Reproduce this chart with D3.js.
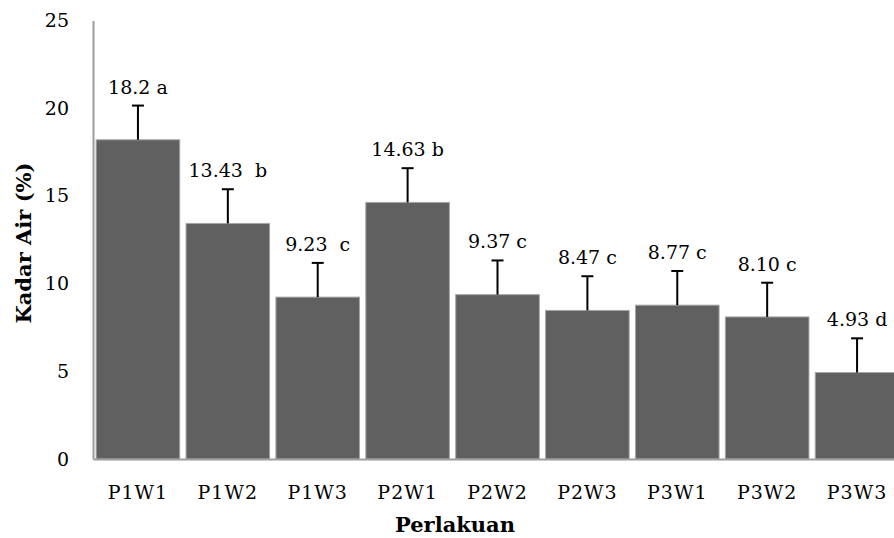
<!DOCTYPE html>
<html>
<head>
<meta charset="utf-8">
<script src="https://cdn.jsdelivr.net/npm/d3@7"></script>
<style>
	body { margin: 0; background: #fff; }
	text { font-family: "DejaVu Serif", serif; fill: #000; }
</style>
</head>
<body>
<svg id="chart" width="894" height="538"></svg>
<script>
// data
let categories = ["P1W1","P1W2","P1W3","P2W1","P2W2","P2W3","P3W1","P3W2","P3W3"];
let values = [18.2, 13.43, 9.23, 14.63, 9.37, 8.47, 8.77, 8.10, 4.93];
let errors = [1.95, 1.95, 1.95, 1.95, 1.95, 1.95, 1.95, 1.95, 1.95];
let labels = ["18.2 a", "13.43  b", "9.23  c", "14.63 b", "9.37 c", "8.47 c", "8.77 c", "8.10 c", "4.93 d"];
let yTicks = [0, 5, 10, 15, 20, 25];

let svg = d3.select("#chart");

let x = d3.scaleBand().domain(categories).range([93, 902]).paddingInner(0.07).paddingOuter(0.035);
let y = d3.scaleLinear().domain([0, 25]).range([459, 20.5]);

let data = categories.map(function (c, i) {
	return { cat: c, value: values[i], err: errors[i], label: labels[i] };
});

// bars
svg.selectAll(".bar")
	.data(data)
	.enter()
	.append("rect")
	.attr("class", "bar")
	.attr("x", function (d) { return x(d.cat); })
	.attr("width", x.bandwidth())
	.attr("y", function (d) { return y(d.value); })
	.attr("height", function (d) { return y(0) - y(d.value); })
	.attr("fill", "#606060")
	.attr("stroke", "#a6a6a6")
	.attr("stroke-width", 1);

// error bars (upper only)
let eb = svg.selectAll(".err")
	.data(data)
	.enter()
	.append("g")
	.attr("class", "err")
	.attr("stroke", "#000")
	.attr("stroke-width", 2);

eb.append("line")
	.attr("x1", function (d) { return x(d.cat) + x.bandwidth() / 2; })
	.attr("x2", function (d) { return x(d.cat) + x.bandwidth() / 2; })
	.attr("y1", function (d) { return y(d.value); })
	.attr("y2", function (d) { return y(d.value + d.err); });

eb.append("line")
	.attr("x1", function (d) { return x(d.cat) + x.bandwidth() / 2 - 6; })
	.attr("x2", function (d) { return x(d.cat) + x.bandwidth() / 2 + 6; })
	.attr("y1", function (d) { return y(d.value + d.err); })
	.attr("y2", function (d) { return y(d.value + d.err); });

// value labels
svg.selectAll(".bar_label")
	.data(data)
	.enter()
	.append("text")
	.attr("class", "bar_label")
	.attr("text-anchor", "middle")
	.attr("x", function (d) { return x(d.cat) + x.bandwidth() / 2; })
	.attr("y", function (d) { return y(d.value + d.err) - 12; })
	.style("font-size", "19px")
	.style("white-space", "pre")
	.text(function (d) { return d.label; });

// axes
let yAxis = svg.append("g")
	.attr("transform", "translate(93,0)")
	.call(d3.axisLeft(y).tickValues(yTicks).tickSize(0).tickPadding(24));
yAxis.select(".domain").attr("stroke", "#9e9e9e").attr("stroke-width", 2);
yAxis.selectAll("text").style("font-size", "19px").attr("font-family", null);

let xAxis = svg.append("g")
	.attr("transform", "translate(0,459)")
	.call(d3.axisBottom(x).tickSize(0).tickPadding(27));
xAxis.select(".domain").attr("stroke", "#9e9e9e").attr("stroke-width", 2);
xAxis.selectAll("text").style("font-size", "19px").style("letter-spacing", "1px").attr("font-family", null);

// axis titles
svg.append("text")
	.attr("transform", "translate(31,243) rotate(-90)")
	.attr("text-anchor", "middle")
	.style("font-size", "21px")
	.style("font-weight", "bold")
	.text("Kadar Air (%)");

svg.append("text")
	.attr("x", 455)
	.attr("y", 532)
	.attr("text-anchor", "middle")
	.style("font-size", "21px")
	.style("font-weight", "bold")
	.text("Perlakuan");
</script>
</body>
</html>
